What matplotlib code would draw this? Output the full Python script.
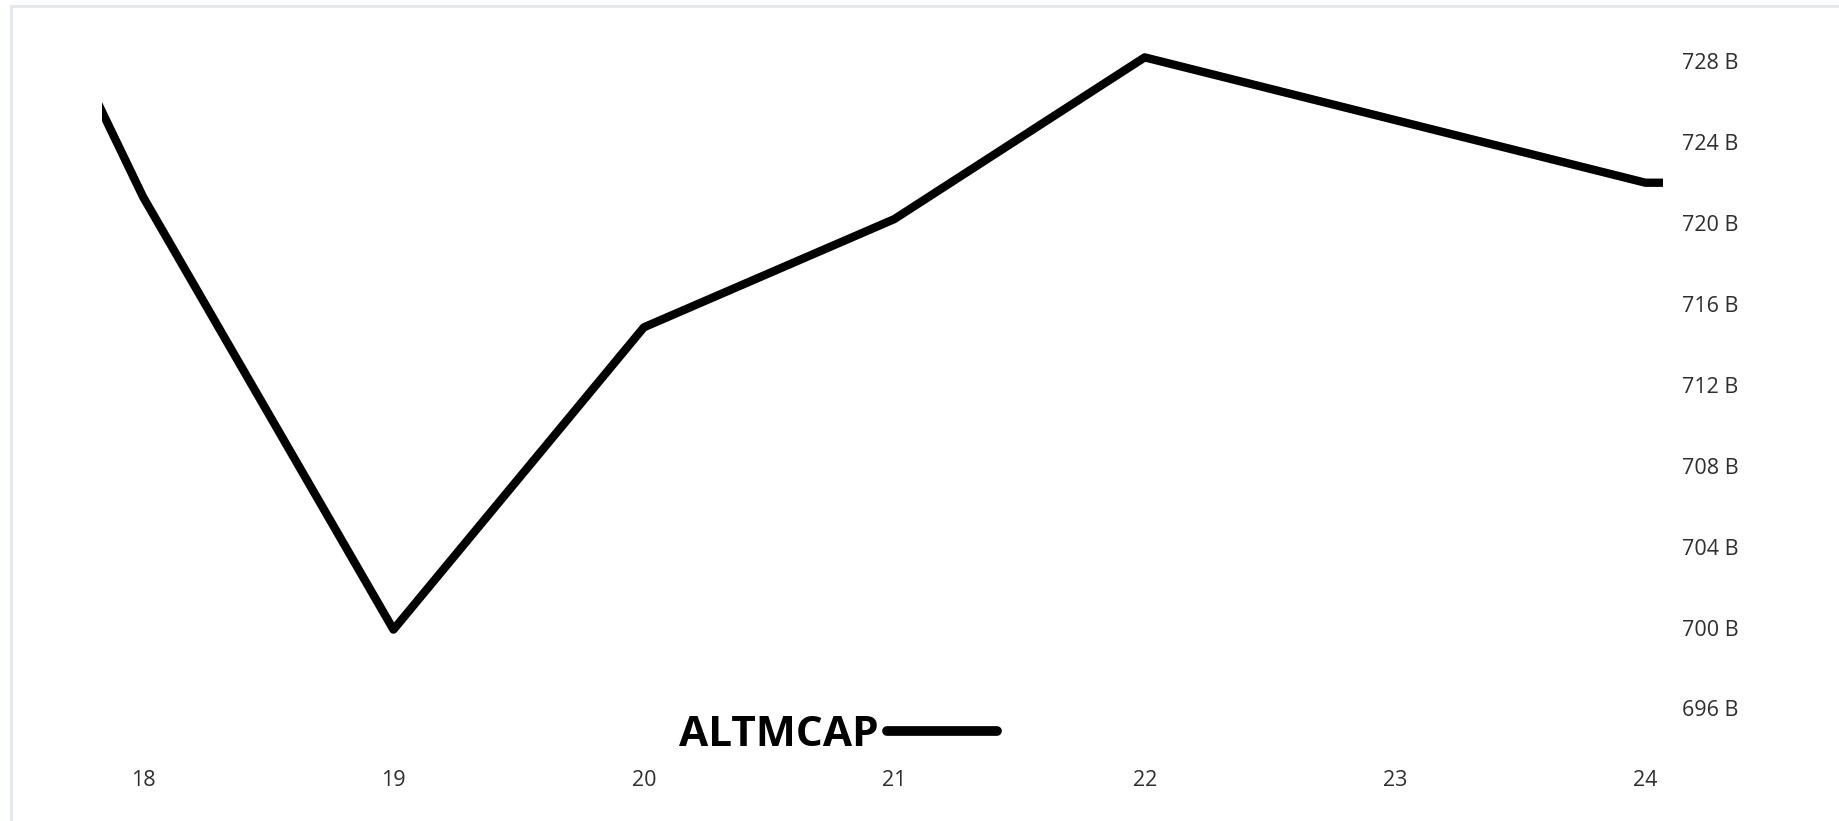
import matplotlib.pyplot as plt
from matplotlib.patches import Rectangle
from matplotlib.ticker import FuncFormatter, FixedLocator

# Daily total market cap of altcoins, in billions
days = [17, 18, 19, 20, 21, 22, 23, 24, 25]
altmcap = [747.0, 721.3, 699.9, 714.85, 720.2, 728.2, 725.1, 722.0, 722.0]

x_ticks = [18, 19, 20, 21, 22, 23, 24]
y_ticks = [696, 700, 704, 708, 712, 716, 720, 724, 728]
series_name = "ALTMCAP"

W, H, DPI = 1839, 821, 100
fig = plt.figure(figsize=(W / DPI, H / DPI), dpi=DPI)
plt.rcParams["font.family"] = ["Open Sans", "DejaVu Sans"]

# plot box in pixels (left, right, top, bottom)
px_l, px_r, px_t, px_b = 102, 1663, 25, 755
ax = fig.add_axes([px_l / W, 1 - px_b / H, (px_r - px_l) / W, (px_b - px_t) / H])

ax.plot(days, altmcap, color="black", lw=6.0, solid_joinstyle="round",
        solid_capstyle="round", label=series_name)

ax.set_xlim(17.836, 24.07)
ax.set_ylim(693.7, 729.8)

ax.xaxis.set_major_locator(FixedLocator(x_ticks))
ax.yaxis.set_major_locator(FixedLocator(y_ticks))
ax.yaxis.set_major_formatter(FuncFormatter(lambda v, _: f"{v:.0f} B"))
ax.yaxis.tick_right()

ax.tick_params(axis="both", length=0, labelsize=15.5, labelcolor="#2e2e2e")
ax.tick_params(axis="x", pad=10.5)
ax.tick_params(axis="y", pad=13.5)
for s in ax.spines.values():
    s.set_visible(False)

leg = ax.legend(loc="center", bbox_to_anchor=(838 / W, 1 - 735 / H),
                bbox_transform=fig.transFigure, frameon=False, markerfirst=False,
                handlelength=2.6, handletextpad=0.18, borderpad=0,
                prop={"weight": "bold", "size": 30.5})
leg.get_lines()[0].set_linewidth(7.0)

# thin light frame around the chart
fig.patches.append(Rectangle((11 / W, -0.05), 1.1, 1.05 - 6 / H, transform=fig.transFigure,
                             fill=False, edgecolor="#e4e8ed", lw=2.2))

fig.savefig("out.png", dpi=DPI)
